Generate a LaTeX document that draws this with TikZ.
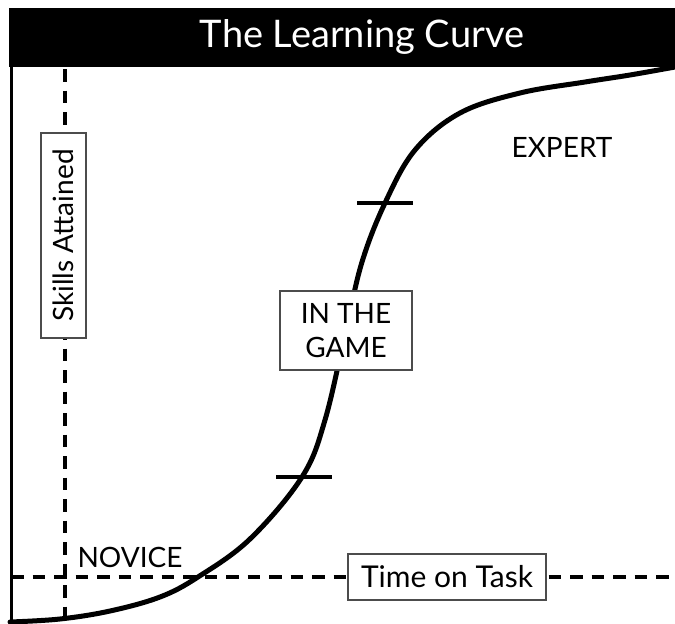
\documentclass[tikz,border=0pt]{standalone}
\usepackage{fontspec}
\setmainfont{Lato}
\begin{document}
\begin{tikzpicture}[x=1pt,y=-1pt,
  lbl/.style={font=\fontsize{28}{34}\selectfont, inner sep=0pt},
  tagbox/.style={draw=black!70, line width=1.2pt, fill=white, inner sep=0pt, align=center, font=\fontsize{28}{34}\selectfont},
  dashline/.style={line width=3.2pt, dash pattern=on 12.5pt off 9pt},
  tickline/.style={line width=3.5pt},
  curveline/.style={line width=5pt, line cap=round}]
\useasboundingbox[fill=white] (0,0) rectangle (675,624);
% title bar
\fill[black] (9,8) rectangle (675,67);
\node[text=white, inner sep=0pt, font=\fontsize{38}{44}\selectfont] (title) at (362,37) {The Learning Curve};
% axes
\coordinate (ltop) at (11,67);
\coordinate (lbot) at (11,624);
\coordinate (vtop) at (65,69);
\coordinate (vbot) at (65,624);
\coordinate (hleft) at (11,577);
\coordinate (hright) at (675,577);
\draw[line width=3pt] (ltop) -- (lbot);
\draw[dashline] (vtop) -- (vbot);
\draw[dashline] (hleft) -- (hright);
% curve
\draw[curveline] plot[smooth, tension=0.6] coordinates {
 (10,622) (60,619) (110,611) (160,597) (198,577) (250,539) (302,477) (325,420)
 (346,330) (362,262) (385,203) (415,150) (460,113) (520,93) (585,82) (630,75) (675,67)};
% ticks
\coordinate (t1a) at (276,477); \coordinate (t1b) at (332,477);
\coordinate (t2a) at (357,203); \coordinate (t2b) at (413,203);
\draw[tickline] (t1a) -- (t1b);
\draw[tickline] (t2a) -- (t2b);
% boxes
\node[tagbox, rotate=90, minimum width=205pt, minimum height=45pt] (skills) at (63.5,235.5) {Skills Attained};
\node[tagbox, minimum width=132pt, minimum height=79pt] (game) at (346,330.5) {IN THE\\GAME};
\node[tagbox, minimum width=198pt, minimum height=46pt, font=\fontsize{30}{36}\selectfont] (time) at (447,577) {Time on Task};
% labels
\node[lbl] (novice) at (130,557) {NOVICE};
\node[lbl] (expert) at (562,147) {EXPERT};
\end{tikzpicture}
\end{document}
